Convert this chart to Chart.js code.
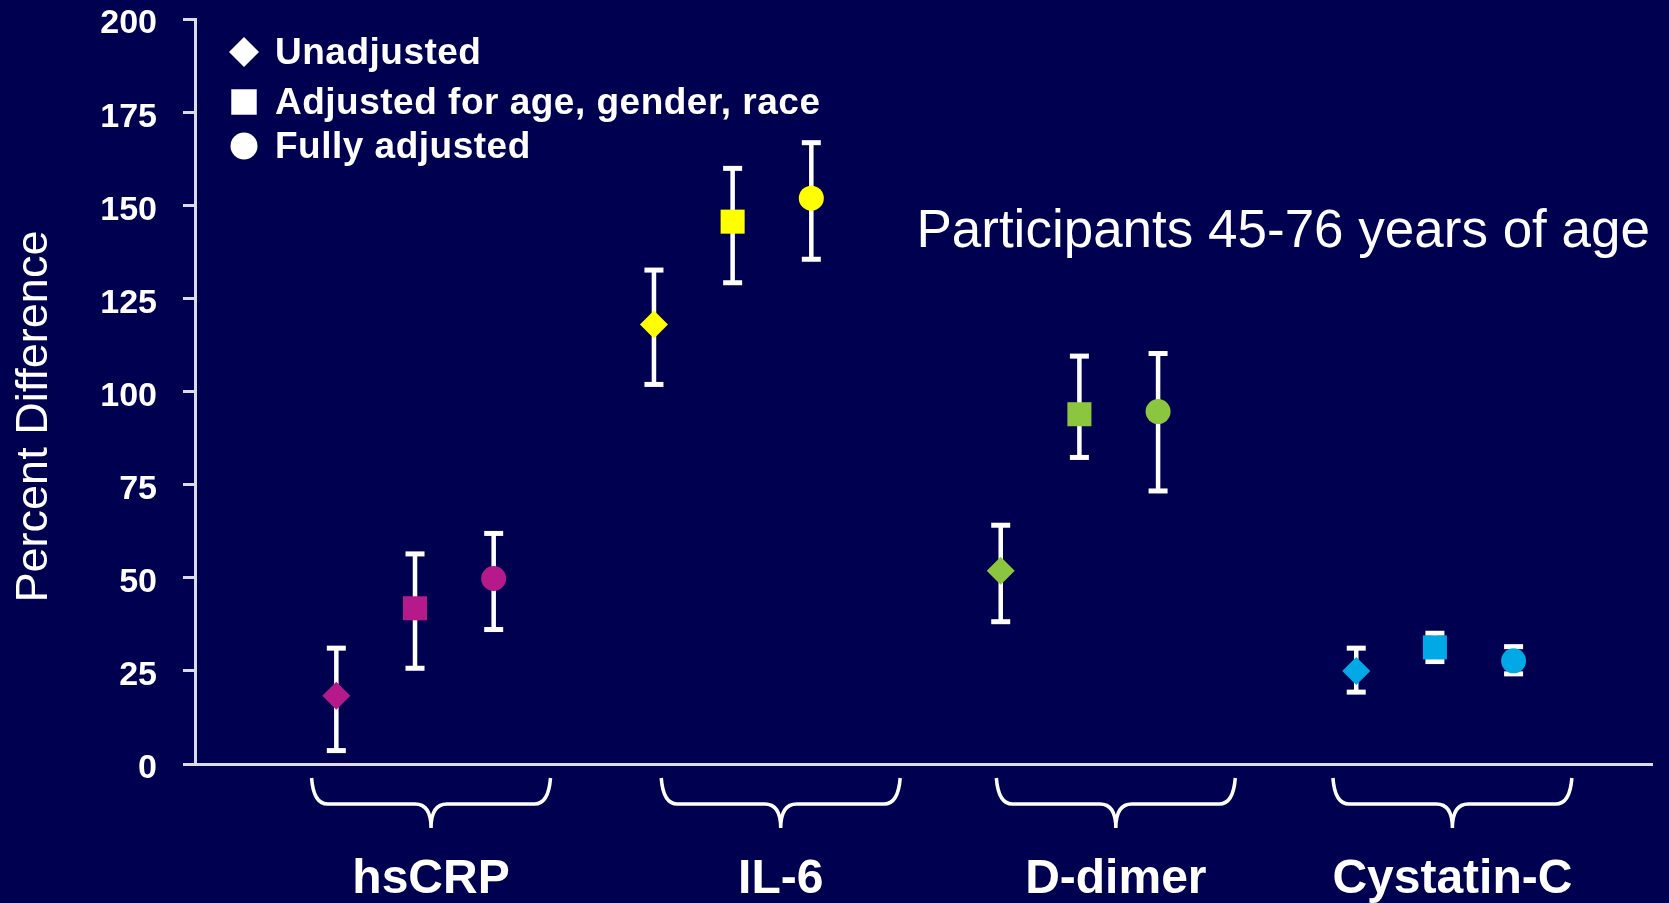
<!DOCTYPE html>
<html>
<head>
<meta charset="utf-8">
<script src="https://cdn.jsdelivr.net/npm/chart.js@4.4.1/dist/chart.umd.min.js"></script>
<style>
  html, body { margin: 0; padding: 0; background: #000050; }
  canvas { display: block; }
</style>
</head>
<body>
<canvas id="grafico" width="1669" height="903"></canvas>
<script>
// categories and series
const categories = ['hsCRP', 'IL-6', 'D-dimer', 'Cystatin-C'];
const seriesNames = ['Unadjusted', 'Adjusted for age, gender, race', 'Fully adjusted'];
const groupColors = ['#b5198a', '#ffff00', '#8cc63f', '#00a9e6'];

// percent difference with lower / upper limits, one value per category
const unadjusted = [18.3, 118.0, 51.9, 25.0];
const unadjustedLow = [3.6, 101.9, 38.2, 19.3];
const unadjustedHigh = [31.1, 132.6, 64.1, 31.1];

const adjusted = [41.8, 145.6, 93.9, 31.3];
const adjustedLow = [25.7, 129.2, 82.3, 27.5];
const adjustedHigh = [56.4, 159.9, 109.5, 35.1];

const fully = [49.8, 151.9, 94.6, 27.7];
const fullyLow = [36.1, 135.5, 73.3, 24.2];
const fullyHigh = [61.9, 166.8, 110.2, 31.5];

const yTicks = [0, 25, 50, 75, 100, 125, 150, 175, 200];

// where the groups sit on a 0-100 horizontal scale
const groupPos = [15.1, 36.9, 60.7, 85.1];
const seriesOffset = [-5.4, 0, 5.4];
const bracePos = [16.2, 40.2, 63.2, 86.3];
const braceHalf = 8.2;

const subtitle = 'Participants 45-76 years of age';

const values = [unadjusted, adjusted, fully];
const lows = [unadjustedLow, adjustedLow, fullyLow];
const highs = [unadjustedHigh, adjustedHigh, fullyHigh];
const markers = [
  { pointStyle: 'rectRot', radius: 14 },
  { pointStyle: 'rect', radius: 17 },
  { pointStyle: 'circle', radius: 12.5 }
];

const axisColor = '#dcdce8';
const font = "'Liberation Sans', Arial, sans-serif";

const datasets = seriesNames.map((name, s) => ({
  label: name,
  data: values[s].map((v, i) => ({ x: groupPos[i] + seriesOffset[s], y: v })),
  low: lows[s],
  high: highs[s],
  pointStyle: markers[s].pointStyle,
  pointRadius: markers[s].radius,
  pointHoverRadius: markers[s].radius,
  pointBackgroundColor: groupColors,
  pointBorderColor: groupColors,
  pointBorderWidth: 0
}));

// white error bars behind the markers
const errorBars = {
  id: 'errorBars',
  beforeDatasetsDraw(chart) {
    const { ctx, scales: { x, y } } = chart;
    ctx.save();
    ctx.fillStyle = '#ffffff';
    chart.data.datasets.forEach(ds => {
      ds.data.forEach((p, i) => {
        const px = x.getPixelForValue(p.x);
        const top = y.getPixelForValue(ds.high[i]);
        const bot = y.getPixelForValue(ds.low[i]);
        ctx.fillRect(px - 2.25, top, 4.5, bot - top);
        ctx.fillRect(px - 9.5, top - 2.5, 19, 5);
        ctx.fillRect(px - 9.5, bot - 2.5, 19, 5);
      });
    });
    ctx.restore();
  }
};

// legend, braces under the axis and the note on the right
const extras = {
  id: 'extras',
  afterDraw(chart) {
    const { ctx, chartArea: area, scales: { x } } = chart;
    ctx.save();

    // legend
    const rows = [33, 83, 127];
    chart.data.datasets.forEach((ds, s) => {
      ctx.fillStyle = '#ffffff';
      Chart.helpers.drawPoint(ctx, {
        pointStyle: markers[s].pointStyle,
        radius: markers[s].radius + 1,
        rotation: 0,
        borderWidth: 0
      }, area.left + 49, area.top + rows[s]);
      ctx.font = 'bold 37px ' + font;
      ctx.letterSpacing = '0.5px';
      ctx.textAlign = 'left';
      ctx.textBaseline = 'alphabetic';
      ctx.fillText(ds.label, area.left + 80, area.top + rows[s] + 12);
    });
    ctx.letterSpacing = '0px';

    // braces
    ctx.strokeStyle = '#ffffff';
    ctx.lineWidth = 3.5;
    const yTop = area.bottom + 14, yMid = area.bottom + 40, yTip = area.bottom + 64;
    bracePos.forEach(c => {
      const L = x.getPixelForValue(c - braceHalf);
      const R = x.getPixelForValue(c + braceHalf);
      const C = x.getPixelForValue(c);
      ctx.beginPath();
      ctx.moveTo(L, yTop);
      ctx.quadraticCurveTo(L + 2, yMid, L + 16, yMid);
      ctx.lineTo(C - 16, yMid);
      ctx.quadraticCurveTo(C, yMid, C, yTip);
      ctx.moveTo(R, yTop);
      ctx.quadraticCurveTo(R - 2, yMid, R - 16, yMid);
      ctx.lineTo(C + 16, yMid);
      ctx.quadraticCurveTo(C, yMid, C, yTip);
      ctx.stroke();
    });

    // note
    ctx.fillStyle = '#ffffff';
    ctx.font = '53px ' + font;
    ctx.textAlign = 'right';
    ctx.textBaseline = 'alphabetic';
    ctx.fillText(subtitle, area.right - 2, area.top + 228);

    ctx.restore();
  }
};

const ctx = document.getElementById('grafico').getContext('2d');

new Chart(ctx, {
  type: 'scatter',
  data: { datasets },
  options: {
    responsive: false,
    animation: false,
    events: [],
    layout: { padding: { top: 19, right: 9, left: 0, bottom: 0 } },
    plugins: {
      legend: { display: false },
      tooltip: { enabled: false }
    },
    scales: {
      x: {
        type: 'linear',
        min: 0,
        max: 100,
        afterFit: scale => {
          scale.height = 139;
          scale.paddingLeft = 0;
          scale.paddingRight = 0;
        },
        afterBuildTicks: scale => { scale.ticks = bracePos.map(v => ({ value: v })); },
        grid: { display: false, drawTicks: false },
        border: { display: true, color: axisColor, width: 3 },
        ticks: {
          autoSkip: false,
          maxRotation: 0,
          padding: 87,
          color: '#ffffff',
          font: { family: font, size: 48, weight: 'bold' },
          callback: (value, index) => categories[index]
        }
      },
      y: {
        min: 0,
        max: 200,
        afterFit: scale => {
          scale.width = 195;
          scale.paddingTop = 0;
          scale.paddingBottom = 0;
        },
        afterBuildTicks: scale => { scale.ticks = yTicks.map(v => ({ value: v })); },
        grid: {
          drawOnChartArea: false,
          drawTicks: true,
          tickLength: 12,
          color: axisColor,
          lineWidth: 3
        },
        border: { display: true, color: axisColor, width: 3 },
        ticks: {
          padding: 26,
          labelOffset: 5,
          color: '#ffffff',
          font: { family: font, size: 34, weight: 'bold', lineHeight: 1 }
        },
        title: {
          display: true,
          text: 'Percent Difference    ',
          color: '#ffffff',
          padding: { top: 8, bottom: 0 },
          font: { family: font, size: 45 }
        }
      }
    }
  },
  plugins: [errorBars, extras]
});
</script>
</body>
</html>
